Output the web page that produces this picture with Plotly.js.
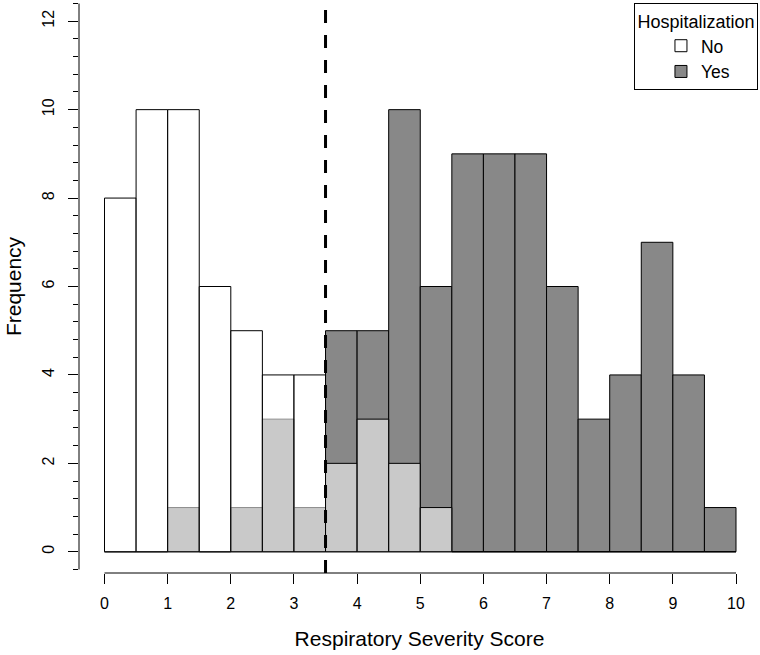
<!DOCTYPE html>
<html>
<head>
<meta charset="utf-8">
<script src="https://cdn.plot.ly/plotly-3.0.1.min.js"></script>
<style>html,body{margin:0;padding:0;background:#fff;}#chart{width:760px;height:655px;}</style>
</head>
<body>
<div id="chart"></div>
<script>
// Bin centres (bin width 0.5) of the Respiratory Severity Score histogram
var binCenters = [0.25, 0.75, 1.25, 1.75, 2.25, 2.75, 3.25, 3.75, 4.25, 4.75,
                  5.25, 5.75, 6.25, 6.75, 7.25, 7.75, 8.25, 8.75, 9.25, 9.75];
// Frequencies per bin
var countsNo  = [8, 10, 10, 6, 5, 4, 4, 2, 3, 2, 1, 0, 0, 0, 0, 0, 0, 0, 0, 0];
var countsYes = [0, 0, 1, 0, 1, 3, 1, 5, 5, 10, 6, 9, 9, 9, 6, 3, 4, 7, 4, 1];
var seriesNames = ["No", "Yes"];
var xTickVals = [0, 1, 2, 3, 4, 5, 6, 7, 8, 9, 10];
var cutoff = 3.5;

var FONT = '"Liberation Sans", Arial, Helvetica, sans-serif';

var traceYes = {
  type: 'bar', name: seriesNames[1], x: binCenters, y: countsYes, width: 0.5,
  marker: {color: '#888888', line: {color: '#000000', width: 1}},
  legendrank: 2, hoverinfo: 'x+y+name'
};
var traceNo = {
  type: 'bar', name: seriesNames[0], x: binCenters, y: countsNo, width: 0.5,
  marker: {color: 'rgba(255,255,255,0.55)', line: {color: '#000000', width: 1}},
  legendrank: 1, hoverinfo: 'x+y+name'
};

var layout = {
  width: 760, height: 655,
  margin: {l: 79, r: 0, t: 0, b: 82, pad: 0},
  paper_bgcolor: '#ffffff', plot_bgcolor: '#ffffff',
  font: {family: FONT, color: '#000000', size: 16},
  barmode: 'overlay',
  showlegend: true,
  legend: {
    x: 0.997, xanchor: 'right', y: 0.994, yanchor: 'top',
    bordercolor: '#000000', borderwidth: 1, bgcolor: '#ffffff',
    font: {family: FONT, size: 17.5, color: '#000000'},
    title: {text: 'Hospitalization', side: 'top center', font: {family: FONT, size: 18}},
    indentation: 26,
    traceorder: 'normal'
  },
  xaxis: {
    range: [-0.404, 10.38],
    tickmode: 'array', tickvals: xTickVals,
    ticks: 'outside', ticklen: 10, tickwidth: 1, tickcolor: '#000000',
    showline: false, zeroline: false, showgrid: false,
    tickfont: {family: FONT, size: 16, color: '#000000'},
    ticklabelstandoff: 6,
    title: {text: 'Respiratory Severity Score', font: {family: FONT, size: 21}, standoff: 20}
  },
  yaxis: {
    range: [-0.48, 12.48],
    tickmode: 'linear', tick0: 0, dtick: 2,
    ticks: 'outside', ticklen: 10, tickwidth: 1, tickcolor: '#000000',
    tickangle: -90,
    minor: {tickmode: 'linear', tick0: 0, dtick: 0.4, ticks: 'outside', ticklen: 5, tickwidth: 1, tickcolor: '#000000', showgrid: false},
    showline: false, zeroline: false, showgrid: false,
    tickfont: {family: FONT, size: 16, color: '#000000'},
    ticklabelstandoff: 8,
    title: {text: 'Frequency', font: {family: FONT, size: 21}, standoff: 12}
  },
  shapes: [
    // y axis line (from lowest to highest tick)
    {type: 'line', xref: 'paper', x0: 0, x1: 0, yref: 'y', y0: -0.4, y1: 12.4,
     line: {color: '#000000', width: 1}},
    // x axis line (from first to last tick)
    {type: 'line', xref: 'x', x0: xTickVals[0], x1: xTickVals[xTickVals.length - 1], yref: 'paper', y0: 0, y1: 0,
     line: {color: '#000000', width: 1}},
    // cut-off line
    {type: 'line', xref: 'x', x0: cutoff, x1: cutoff, yref: 'paper', y0: 0, y1: 1,
     line: {color: '#000000', width: 3, dash: '13px,12px'}}
  ]
};

Plotly.newPlot('chart', [traceYes, traceNo], layout, {displayModeBar: false, staticPlot: true});
</script>
</body>
</html>
